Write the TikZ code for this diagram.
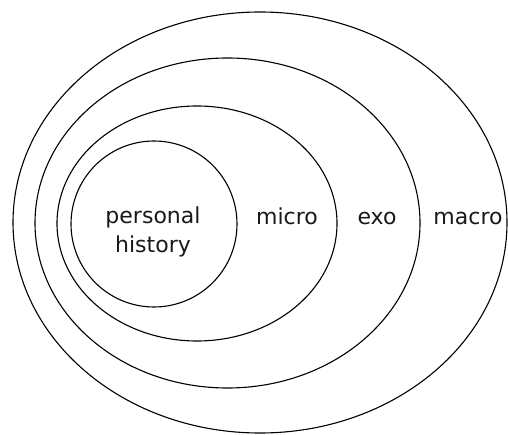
\documentclass[tikz,border=0pt]{standalone}
\usepackage{fontspec}
\setmainfont{DejaVu Sans}
\usepackage{tikz}
\usetikzlibrary{positioning}
\tikzset{
  ring/.style={draw=black,line width=1.1pt},
  lvlnode/.style={font=\fontsize{22}{29}\selectfont,text=black!90,
    align=center,inner sep=0pt},
}
\begin{document}
\begin{tikzpicture}[x=1pt,y=-1pt]
  \useasboundingbox (0,0) rectangle (508,435);
  \draw[ring] (260,222.5) ellipse [x radius=247, y radius=210.5];
  \draw[ring] (227.5,223) ellipse [x radius=192.5, y radius=165];
  \draw[ring] (197,223.5) ellipse [x radius=140, y radius=117.5];
  \draw[ring] (154,224) ellipse [x radius=83, y radius=83];
  \node[lvlnode] (hist) at (153,232) {personal\\history};
  \node[lvlnode,anchor=base] (micro) at (287,225) {micro};
  \node[lvlnode,anchor=base] (exo) at (377,225) {exo};
  \node[lvlnode,anchor=base] (macro) at (468,225) {macro};
\end{tikzpicture}
\end{document}
